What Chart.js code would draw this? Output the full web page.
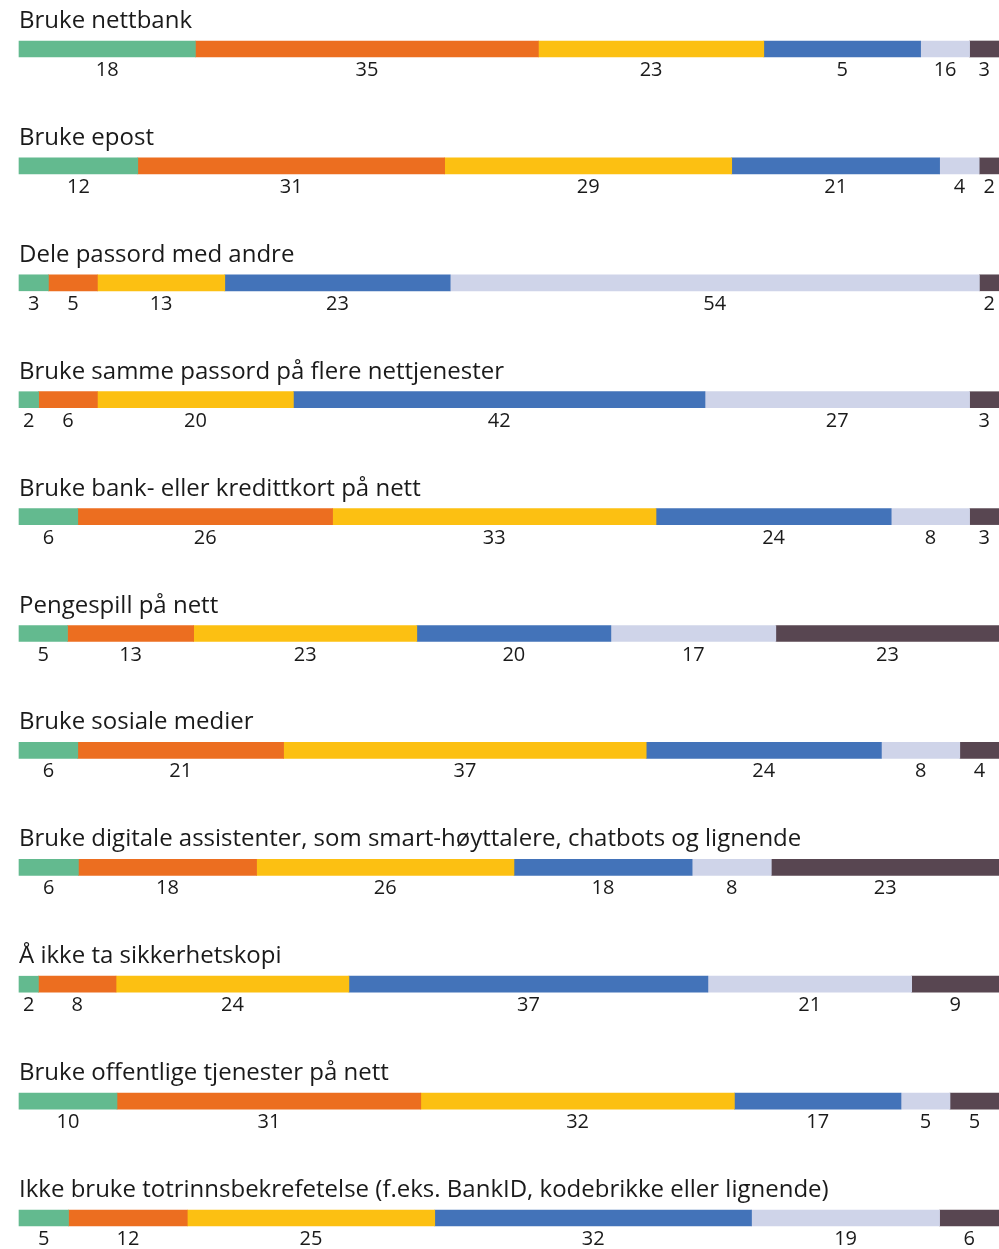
<!DOCTYPE html>
<html>
<head>
<meta charset="utf-8">
<script src="https://cdn.jsdelivr.net/npm/chart.js@4/dist/chart.umd.min.js"></script>
<style>
  html, body { margin: 0; padding: 0; background: #fff; }
  #wrap { width: 999px; height: 1249px; position: relative; }
</style>
</head>
<body>
<div id="wrap"><canvas id="chart"></canvas></div>
<script>
const categories = [
  "Bruke nettbank",
  "Bruke epost",
  "Dele passord med andre",
  "Bruke samme passord på flere nettjenester",
  "Bruke bank- eller kredittkort på nett",
  "Pengespill på nett",
  "Bruke sosiale medier",
  "Bruke digitale assistenter, som smart-høyttalere, chatbots og lignende",
  "Å ikke ta sikkerhetskopi",
  "Bruke offentlige tjenester på nett",
  "Ikke bruke totrinnsbekrefetelse (f.eks. BankID, kodebrikke eller lignende)"
];

const green    = [18, 12,  3,  2,  6,  5,  6,  6,  2, 10,  5];
const orange   = [35, 31,  5,  6, 26, 13, 21, 18,  8, 31, 12];
const yellow   = [23, 29, 13, 20, 33, 23, 37, 26, 24, 32, 25];
const blue     = [16, 21, 23, 42, 24, 20, 24, 18, 37, 17, 32];
const lavender = [ 5,  4, 54, 27,  8, 17,  8,  8, 21,  5, 19];
const dark     = [ 3,  2,  2,  3,  3, 23,  4, 23,  9,  5,  6];

// the source prints these two numbers swapped under the first bar
const printedOverride = { "0-3": 5, "0-4": 16 };

const series = [green, orange, yellow, blue, lavender, dark];
const colors = ["#63ba8f", "#ec6e20", "#fcc012", "#4373b9", "#cfd4e9", "#584651"];

const rowSums = categories.map((c, i) => series.reduce((s, arr) => s + arr[i], 0));

const datasets = series.map((arr, k) => ({
  label: "Serie " + (k + 1),
  data: arr.map((v, i) => v / rowSums[i] * 100),
  raw: arr,
  backgroundColor: colors[k],
  borderWidth: 0,
  barThickness: 16,
  clip: false
}));

const textPlugin = {
  id: "rowText",
  afterDatasetsDraw(chart) {
    const ctx = chart.ctx;
    const yScale = chart.scales.y;
    ctx.save();
    ctx.fillStyle = "#1a1a1a";
    ctx.textBaseline = "alphabetic";

    ctx.font = "24px 'Open Sans'";
    ctx.textAlign = "left";
    categories.forEach((name, i) => {
      const y = yScale.getPixelForValue(i);
      ctx.fillText(name, 19, y - 21);
    });

    ctx.font = "20px 'Open Sans'";
    ctx.textAlign = "center";
    chart.data.datasets.forEach((ds, k) => {
      const meta = chart.getDatasetMeta(k);
      meta.data.forEach((el, i) => {
        const key = i + "-" + k;
        const txt = String(key in printedOverride ? printedOverride[key] : ds.raw[i]);
        const w = ctx.measureText(txt).width;
        let x = (el.x + el.base) / 2;
        x = Math.min(x, chart.width - w / 2 - 1);
        x = Math.max(x, w / 2 + 1);
        ctx.fillText(txt, x, el.y + 27);
      });
    });
    ctx.restore();
  }
};

new Chart(document.getElementById("chart"), {
  type: "bar",
  data: { labels: categories, datasets: datasets },
  options: {
    indexAxis: "y",
    responsive: true,
    maintainAspectRatio: false,
    animation: false,
    devicePixelRatio: 1,
    layout: { padding: { top: 49, bottom: 31, left: 19, right: 0 } },
    scales: {
      x: { stacked: true, min: 0, max: 100, display: false },
      y: { stacked: true, offset: false, display: false }
    },
    plugins: {
      legend: { display: false },
      tooltip: { enabled: false }
    }
  },
  plugins: [textPlugin]
});
</script>
</body>
</html>
